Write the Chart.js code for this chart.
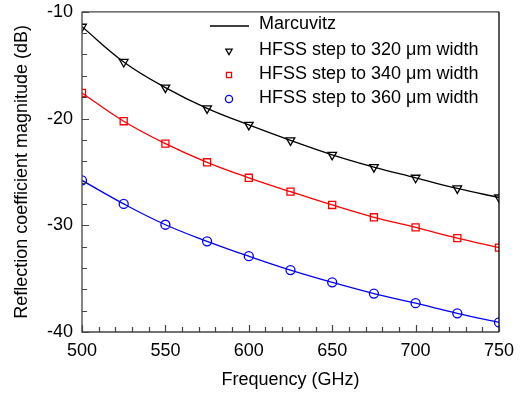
<!DOCTYPE html>
<html>
<head>
<meta charset="utf-8">
<script src="https://cdn.jsdelivr.net/npm/chart.js@4/dist/chart.umd.min.js"></script>
<style>
  html, body { margin: 0; padding: 0; background: #fff; }
  #chart { display: block; }
</style>
</head>
<body>
<canvas id="chart" width="522" height="394"></canvas>
<script>
const freq = [500, 525, 550, 575, 600, 625, 650, 675, 700, 725, 750];

// Marcuvitz curves (solid lines)
const marc320 = [-11.4, -14.7, -17.1, -19.05, -20.6, -22.05, -23.4, -24.55, -25.55, -26.55, -27.4];
const marc340 = [-17.6, -20.25, -22.35, -24.1, -25.55, -26.85, -28.1, -29.25, -30.2, -31.2, -32.1];
const marc360 = [-25.8, -28.0, -29.95, -31.5, -32.9, -34.2, -35.35, -36.4, -37.3, -38.25, -39.1];

// HFSS markers
const hfss320 = [-11.4, -14.7, -17.1, -19.05, -20.6, -22.05, -23.4, -24.55, -25.55, -26.55, -27.4];
const hfss340 = [-17.6, -20.25, -22.35, -24.1, -25.55, -26.85, -28.1, -29.25, -30.2, -31.2, -32.1];
const hfss360 = [-25.8, -28.0, -29.95, -31.5, -32.9, -34.2, -35.35, -36.4, -37.3, -38.25, -39.1];

const xTicks = [500, 550, 600, 650, 700, 750];
const yTicks = [-40, -30, -20, -10];

const FONT = "'Liberation Sans', Arial, sans-serif";

function pts(ys) {
  return freq.map((f, i) => ({ x: f, y: ys[i] }));
}

function lineSet(label, ys, color) {
  return {
    label: label, data: pts(ys), borderColor: color, borderWidth: 1.3,
    pointRadius: 0, tension: 0.4, fill: false, showLine: true
  };
}

function markSet(label, ys, color, style, r) {
  return {
    label: label, data: pts(ys), borderColor: color, backgroundColor: "rgba(0,0,0,0)",
    pointStyle: style, pointRadius: r, pointBorderWidth: 1.3, showLine: false,
    pointRotation: style === "triangle" ? 180 : 0
  };
}

// inward ticks, frame and legend drawn on top of the plot
const decor = {
  id: "decor",
  afterDraw(chart) {
    const c = chart.ctx;
    const a = chart.chartArea;
    const xs = chart.scales.x, ys = chart.scales.y;
    c.save();
    c.lineWidth = 1.3;
    c.strokeStyle = "#444";
    c.beginPath();
    c.moveTo(a.left, a.top); c.lineTo(a.right, a.top);
    c.moveTo(a.left, a.top); c.lineTo(a.left, a.bottom); c.lineTo(a.right, a.bottom);
    c.stroke();
    c.strokeStyle = "#000";
    c.beginPath();
    c.moveTo(a.right, a.top); c.lineTo(a.right, a.bottom);
    c.stroke();

    c.strokeStyle = "#444";
    c.lineWidth = 1.2;
    c.beginPath();
    for (let v = 500; v <= 750; v += 10) {
      const px = Math.round(xs.getPixelForValue(v)) + 0.5;
      const len = v % 50 === 0 ? 7 : 5;
      c.moveTo(px, a.bottom); c.lineTo(px, a.bottom - len);
    }
    for (let v = -40; v <= -10; v += 2) {
      const py = Math.round(ys.getPixelForValue(v)) + 0.5;
      const len = v % 10 === 0 ? 7 : 5;
      c.moveTo(a.left, py); c.lineTo(a.left + len, py);
    }
    c.stroke();

    // legend
    const lx = 229, tx = 259;
    const y = 24;
    c.strokeStyle = "#000";
    c.lineWidth = 1.3;
    c.beginPath();
    c.moveTo(210, y + 2); c.lineTo(249, y + 2);
    c.stroke();
    c.fillStyle = "#000";
    c.font = "18px " + FONT;
    c.textBaseline = "middle";
    c.fillText(chart.data.datasets[0].label, tx, y);
    [3, 4, 5].forEach((i, k) => {
      const d = chart.data.datasets[i];
      const yy = 50 + k * 24;
      c.strokeStyle = d.borderColor;
      c.fillStyle = "rgba(0,0,0,0)";
      c.lineWidth = 1.3;
      Chart.helpers.drawPoint(c, {
        pointStyle: d.pointStyle, radius: 3.6, borderWidth: 1.3, rotation: d.pointRotation
      }, lx, yy + 1);
      c.fillStyle = "#000";
      c.fillText(d.label, tx, yy);
    });
    c.restore();
  }
};

const ctx = document.getElementById("chart").getContext("2d");

const chart = new Chart(ctx, {
  type: "scatter",
  data: {
    datasets: [
      lineSet("Marcuvitz", marc320, "#000"),
      lineSet("Marcuvitz 340", marc340, "#ff0000"),
      lineSet("Marcuvitz 360", marc360, "#0000ff"),
      markSet("HFSS step to 320 \u03bcm width", hfss320, "#000", "triangle", 5),
      markSet("HFSS step to 340 \u03bcm width", hfss340, "#ff0000", "rect", 5),
      markSet("HFSS step to 360 \u03bcm width", hfss360, "#0000ff", "circle", 4.5)
    ]
  },
  options: {
    responsive: false,
    animation: false,
    devicePixelRatio: 1,
    layout: { padding: { left: 0, right: 23, top: 10, bottom: 0 } },
    plugins: { legend: { display: false }, tooltip: { enabled: false } },
    scales: {
      x: {
        type: "linear", min: 500, max: 750,
        afterBuildTicks: s => { s.ticks = xTicks.map(v => ({ value: v })); },
        afterFit: s => { s.height = 62; },
        grid: { display: false },
        border: { display: false },
        ticks: { color: "#000", font: { size: 18, family: FONT }, padding: 0 },
        title: { display: true, text: "Frequency (GHz)", color: "#000", font: { size: 18, family: FONT }, padding: { top: 4, bottom: 3 } }
      },
      y: {
        type: "linear", min: -40, max: -10,
        afterBuildTicks: s => { s.ticks = yTicks.map(v => ({ value: v })); },
        afterFit: s => { s.width = 82; },
        grid: { display: false },
        border: { display: false },
        ticks: { color: "#000", font: { size: 18, family: FONT }, padding: 1 },
        title: { display: true, text: "Reflection coefficient magnitude (dB)", color: "#000", font: { size: 18, family: FONT }, padding: { top: 11, bottom: 4 } }
      }
    }
  },
  plugins: [decor]
});
</script>
</body>
</html>
